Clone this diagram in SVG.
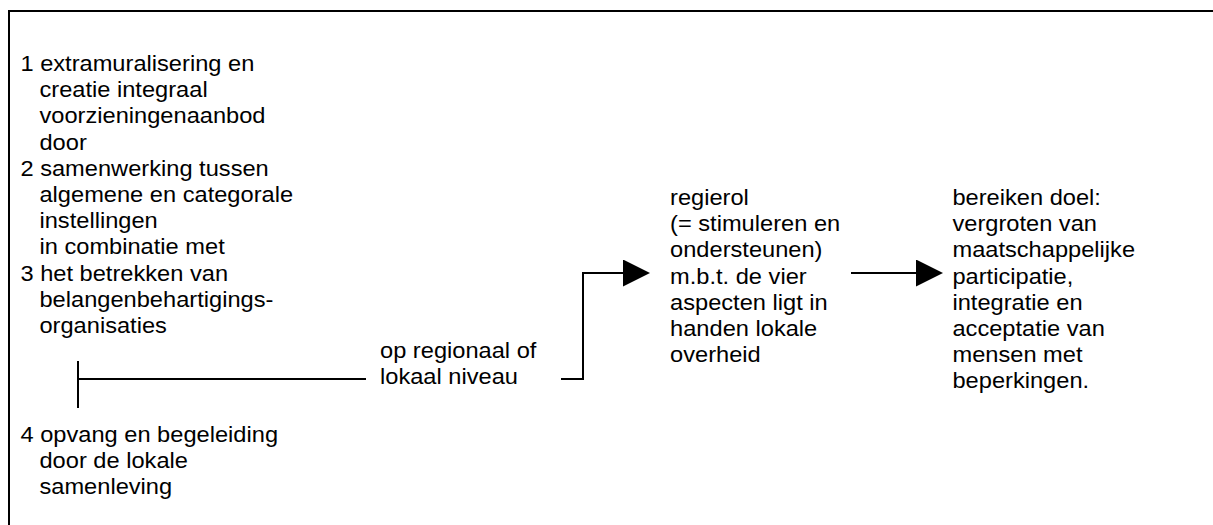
<svg xmlns="http://www.w3.org/2000/svg" width="1213" height="525" viewBox="0 0 1213 525">
  <style>
    .t { font-family: "Liberation Sans", Arial, sans-serif; font-size: 22px; fill: #000; }
    .ln { stroke: #000; stroke-width: 2; fill: none; }
  </style>
  <defs>
    <marker id="arrow" markerUnits="userSpaceOnUse" markerWidth="28" markerHeight="28" refX="22" refY="13.5" orient="auto">
      <path d="M0,0 L27,13.5 L0,27 Z" fill="#000"/>
    </marker>
  </defs>
  <rect x="0" y="0" width="1213" height="525" fill="#fff"/>
  <rect id="frame" x="9" y="11" width="1220" height="530" class="ln"/>

  <g id="left-list" transform="scale(1.075 1)">
    <text class="t" x="19" y="71">1 extramuralisering en</text>
    <text class="t" x="36.7" y="97.2">creatie integraal</text>
    <text class="t" x="36.7" y="123.4">voorzieningenaanbod</text>
    <text class="t" x="36.7" y="149.6">door</text>
    <text class="t" x="19" y="175.8">2 samenwerking tussen</text>
    <text class="t" x="36.7" y="202">algemene en categorale</text>
    <text class="t" x="36.7" y="228.2">instellingen</text>
    <text class="t" x="36.7" y="254.4">in combinatie met</text>
    <text class="t" x="19" y="280.6">3 het betrekken van</text>
    <text class="t" x="36.7" y="306.8">belangenbehartigings-</text>
    <text class="t" x="36.7" y="333">organisaties</text>
  </g>

  <g id="item4" transform="scale(1.075 1)">
    <text class="t" x="19" y="442">4 opvang en begeleiding</text>
    <text class="t" x="36.7" y="468.2">door de lokale</text>
    <text class="t" x="36.7" y="494.4">samenleving</text>
  </g>

  <g id="level" transform="scale(1.075 1)">
    <text class="t" x="353.5" y="358">op regionaal of</text>
    <text class="t" x="353.5" y="384">lokaal niveau</text>
  </g>

  <g id="regierol" transform="scale(1.075 1)">
    <text class="t" x="623.3" y="205">regierol</text>
    <text class="t" x="623.3" y="231.2">(= stimuleren en</text>
    <text class="t" x="623.3" y="257.4">ondersteunen)</text>
    <text class="t" x="623.3" y="283.6">m.b.t. de vier</text>
    <text class="t" x="623.3" y="309.8">aspecten ligt in</text>
    <text class="t" x="623.3" y="336">handen lokale</text>
    <text class="t" x="623.3" y="362.2">overheid</text>
  </g>

  <g id="doel" transform="scale(1.075 1)">
    <text class="t" x="886" y="205">bereiken doel:</text>
    <text class="t" x="886" y="231.2">vergroten van</text>
    <text class="t" x="886" y="257.4">maatschappelijke</text>
    <text class="t" x="886" y="283.6">participatie,</text>
    <text class="t" x="886" y="309.8">integratie en</text>
    <text class="t" x="886" y="336">acceptatie van</text>
    <text class="t" x="886" y="362.2">mensen met</text>
    <text class="t" x="886" y="388.4">beperkingen.</text>
  </g>

  <g id="connectors">
    <line class="ln" x1="78" y1="361" x2="78" y2="408"/>
    <line class="ln" x1="78" y1="379" x2="366" y2="379"/>
    <path class="ln" d="M561,379 H583 V273 H645" marker-end="url(#arrow)"/>
    <line class="ln" x1="851" y1="273" x2="938" y2="273" marker-end="url(#arrow)"/>
  </g>
</svg>
